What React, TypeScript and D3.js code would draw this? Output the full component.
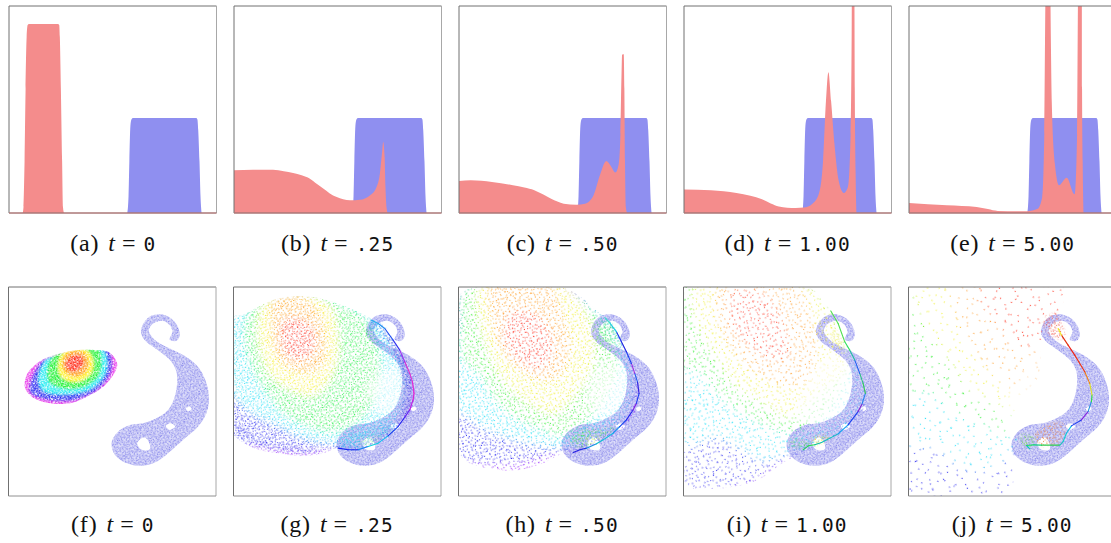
import React from "react";
import * as d3 from "d3";

type P = [number, number];
type Level = { color: string; pts: P[] };

// ---------- top row: densities, x and height in percent of the panel
const blueDensity: P[] = [[57, 0], [57.6, 8], [58, 25], [58.5, 42], [59, 45.2], [59.8, 45.9], [90.2, 45.9], [90.8, 45.2], [91.2, 40], [91.8, 25], [92.3, 8], [92.8, 0]];
const redA: P[] = [[6.6, 0], [7, 3], [7.5, 25], [8, 60], [8.5, 85], [9, 90.8], [9.6, 91.3], [23.6, 91.3], [24.2, 90.8], [24.5, 85], [25, 60], [25.6, 25], [26, 3], [26.5, 0]];
const redB: P[] = [[0, 20.6], [9.2, 20.9], [18.8, 20.9], [24, 20.2], [28.5, 19.3], [32.6, 18.2], [36.6, 16.6], [40, 14], [43, 11.8], [46, 9.6], [49.5, 7.7], [52.6, 6.6], [55.9, 6.1], [60.7, 6.4], [65.5, 8.5], [68.7, 12.6], [70.3, 19], [71.3, 28.7], [71.9, 34.3], [72.6, 27], [73, 12.6], [73.6, 2], [74, 0]];
const redC: P[] = [[0, 15.5], [5.7, 15.8], [15.9, 15], [26, 13.4], [31.5, 12.3], [36.3, 11], [40.4, 9], [44.4, 6.9], [47.4, 5.5], [50.5, 4.5], [56.6, 4], [60.7, 4.5], [64.8, 8.5], [67.9, 18.2], [71, 25.1], [73, 23], [75.4, 19.6], [77, 23.8], [77.8, 38], [78.3, 66], [78.6, 76.5], [79.4, 76.7], [79.7, 60], [80, 25], [80.4, 3], [81, 0]];
const redD: P[] = [[0, 11.3], [13, 11], [25.3, 9.7], [32, 8.3], [37.6, 6.6], [41.8, 4.6], [45.7, 3.2], [53.8, 2.4], [57.8, 2.6], [61.9, 4.5], [65, 9.3], [67, 25], [68.4, 54], [69.6, 68], [70.9, 54], [72.5, 33.5], [74.5, 15.8], [77, 9.7], [79, 12.6], [80.3, 38], [80.8, 86], [81.0, 130], [82.0, 130], [82.3, 60], [82.7, 20], [83.1, 0]];
const redE: P[] = [[0, 4.8], [18.3, 3.7], [32.6, 2.9], [38, 1.9], [42.8, 1], [57, 0.8], [62, 2], [64.2, 7.7], [65.2, 38], [65.7, 100], [66, 130], [67.9, 130], [68.3, 90], [68.8, 54], [70.3, 23.8], [72.3, 13.4], [76, 17], [79.8, 9], [81, 38], [81.4, 100], [81.6, 130], [83.2, 130], [83.4, 60], [83.7, 25], [84.1, 0]];
const topSeries = [redA, redB, redC, redD, redE];
const topCaptions = [["(a)", "0"], ["(b)", ".25"], ["(c)", ".50"], ["(d)", "1.00"], ["(e)", "5.00"]];
const bottomCaptions = [["(f)", "0"], ["(g)", ".25"], ["(h)", ".50"], ["(i)", "1.00"], ["(j)", "5.00"]];

// ---------- bottom row: outlines, in a 624 x 629 grid
const targetOutline: P[] = [[540, 165], [532, 135], [510, 112], [480, 102], [448, 110], [428, 135], [424, 160], [435, 180], [460, 200], [490, 222], [515, 245], [530, 275], [532, 310], [525, 350], [505, 390], [470, 415], [430, 430], [390, 435], [355, 455], [335, 490], [345, 525], [375, 548], [420, 558], [465, 548], [505, 520], [550, 480], [595, 440], [620, 400], [628, 350], [615, 295], [590, 255], [550, 225], [510, 205], [480, 190], [458, 172], [447, 150], [460, 130], [490, 122], [510, 135], [518, 155], [510, 178], [530, 182]];
const targetHoles: P[][] = [
  [[432, 472], [446, 484], [450, 508], [426, 510], [412, 490]],
  [[514, 430], [526, 440], [510, 450], [498, 438]],
  [[570, 380], [575, 387], [565, 394], [558, 386]],
];

const W = "#ffffff";
const field: P[] = [[-60, -60], [720, -60], [720, 720], [-60, 720]];

const fOutline: P[] = [[75, 300], [85, 275], [110, 250], [135, 235], [180, 220], [230, 210], [290, 210], [325, 215], [352, 250], [340, 285], [310, 320], [270, 345], [210, 370], [140, 368], [95, 350], [75, 325]];
const fLevels: Level[] = [
  { color: "#e820e8", pts: field },
  { color: "#1818f0", pts: [[115, 255], [135, 235], [320, 205], [338, 250], [325, 295], [280, 340], [220, 362], [150, 362], [90, 340], [92, 300]] },
  { color: "#08e8f0", pts: [[130, 250], [150, 232], [300, 205], [318, 225], [316, 280], [270, 328], [200, 343], [130, 333], [115, 300]] },
  { color: "#10f020", pts: [[150, 240], [170, 222], [295, 205], [305, 240], [298, 285], [260, 318], [200, 328], [150, 310], [140, 280]] },
  { color: "#fff010", pts: [[175, 250], [195, 212], [260, 210], [280, 245], [273, 280], [240, 303], [205, 303], [180, 285]] },
  { color: "#ff9000", pts: [[185, 250], [205, 216], [250, 216], [266, 245], [258, 275], [225, 290], [195, 275]] },
  { color: "#ff1800", pts: [[195, 250], [220, 225], [245, 228], [250, 255], [225, 275], [205, 270]] },
];

const gOutline: P[] = [[25, 110], [50, 105], [90, 85], [140, 60], [220, 47], [290, 55], [360, 78], [420, 105], [445, 120], [490, 165], [530, 225], [560, 290], [568, 350], [550, 410], [510, 450], [450, 490], [400, 510], [360, 512], [335, 505], [300, 518], [230, 528], [160, 520], [100, 510], [50, 485], [25, 460]];
const gLevels: Level[] = [
  { color: "#a830ff", pts: field },
  { color: "#2828f0", pts: [[0, 40], [300, 20], [480, 100], [560, 250], [555, 350], [520, 440], [420, 520], [330, 512], [230, 515], [120, 505], [0, 480]] },
  { color: "#20e0f8", pts: [[0, 90], [60, 90], [300, 40], [430, 100], [520, 230], [540, 330], [510, 420], [430, 480], [330, 490], [230, 470], [150, 430], [70, 390], [0, 300]] },
  { color: "#28f048", pts: [[75, 85], [55, 140], [60, 210], [90, 290], [130, 350], [170, 400], [240, 440], [320, 460], [400, 430], [450, 370], [470, 280], [460, 180], [420, 110], [330, 60], [200, 35], [110, 60]] },
  { color: "#f8f020", pts: [[115, 75], [100, 130], [110, 220], [135, 280], [190, 325], [260, 345], [305, 310], [335, 240], [335, 150], [315, 80], [230, 40], [150, 50]] },
  { color: "#ff9a10", pts: [[140, 65], [135, 120], [150, 220], [190, 265], [255, 280], [295, 255], [305, 200], [290, 110], [245, 55], [180, 48]] },
  { color: "#ff2818", pts: [[170, 125], [165, 190], [195, 235], [250, 235], [275, 190], [260, 135], [215, 110]] },
];
const gVoids: P[][] = [[[440, 290], [510, 260], [545, 320], [530, 390], [470, 400], [430, 350]]];
const gAccents: Level[] = [
  { color: "#20d8e8", pts: [[345, 490], [380, 465], [440, 450], [500, 435], [520, 430], [470, 475], [420, 500], [360, 510]] },
  { color: "#90f0a0", pts: [[400, 490], [430, 470], [470, 470], [440, 495]] },
  { color: "#3090ff", pts: [[430, 130], [460, 120], [490, 170], [470, 200], [440, 170]] },
  { color: "#4040e0", pts: [[470, 140], [510, 190], [550, 260], [566, 340], [545, 410], [530, 400], [540, 340], [525, 260], [490, 190]] },
  { color: "#5050f0", pts: [[30, 440], [70, 480], [130, 505], [230, 522], [290, 515], [200, 500], [100, 480], [50, 440]] },
];
const gCurve: [number, number, string][] = [[340, 505, "#2030e0"], [370, 510, "#1020f0"], [400, 510, "#1020f0"], [430, 500, "#1080f0"], [460, 490, "#10d0e0"], [490, 468, "#10c0f0"], [520, 440, "#1040f0"], [540, 412, "#2020f0"], [555, 390, "#6020f0"], [565, 360, "#c020e0"], [568, 340, "#e020d0"], [563, 305, "#f020d0"], [555, 280, "#e030d0"], [540, 245, "#e030d0"], [525, 210, "#a030f0"], [505, 180, "#3030f0"], [480, 145, "#2050f0"], [460, 130, "#2090f0"], [440, 120, "#20b0f0"]];

const hOutline: P[] = [[25, 50], [70, 22], [340, 22], [400, 55], [450, 100], [470, 112], [500, 150], [530, 220], [560, 290], [568, 350], [550, 410], [500, 460], [440, 490], [380, 518], [330, 525], [280, 550], [200, 572], [110, 565], [50, 545], [25, 510]];
const hLevels: Level[] = [
  { color: "#a830ff", pts: field },
  { color: "#2828f0", pts: [[0, 0], [300, 0], [480, 100], [560, 260], [560, 360], [510, 450], [420, 500], [300, 530], [180, 555], [90, 555], [0, 530]] },
  { color: "#20e0f8", pts: [[0, 190], [80, 100], [300, 20], [450, 100], [530, 230], [545, 340], [510, 420], [440, 470], [340, 500], [250, 490], [170, 470], [100, 440], [40, 400], [0, 380]] },
  { color: "#38f038", pts: [[40, 30], [30, 120], [35, 240], [90, 290], [130, 360], [200, 420], [270, 450], [330, 470], [420, 420], [480, 340], [510, 250], [480, 160], [430, 90], [340, 30]] },
  { color: "#f0f028", pts: [[90, 10], [85, 100], [110, 200], [160, 300], [240, 370], [310, 400], [370, 350], [430, 250], [420, 130], [370, 40], [330, 10]] },
  { color: "#ff9c20", pts: [[120, 10], [115, 90], [140, 190], [190, 260], [270, 300], [330, 290], [365, 200], [340, 100], [300, 10]] },
  { color: "#ff3020", pts: [[175, 100], [160, 180], [200, 240], [270, 270], [310, 220], [295, 140], [240, 90]] },
];
const hVoids: P[][] = [[[430, 280], [510, 250], [545, 320], [525, 390], [450, 410], [410, 350]]];
const hAccents: Level[] = [
  { color: "#40e840", pts: [[360, 480], [400, 450], [450, 450], [500, 440], [450, 480], [390, 505]] },
  { color: "#d8f050", pts: [[405, 485], [430, 470], [450, 475], [430, 490]] },
  { color: "#30e070", pts: [[465, 115], [490, 135], [515, 195], [490, 190], [450, 180], [450, 140]] },
];
const hCurve: [number, number, string][] = [[370, 518, "#8020f0"], [390, 510, "#2020e0"], [410, 505, "#2030e0"], [440, 492, "#1090e0"], [460, 480, "#10c0d0"], [490, 460, "#10c0e0"], [510, 440, "#1090f0"], [530, 420, "#1040f0"], [550, 390, "#2020f0"], [560, 370, "#8020e0"], [568, 340, "#2040f0"], [563, 305, "#3020e0"], [555, 280, "#2060f0"], [545, 250, "#a030e0"], [530, 215, "#2040f0"], [515, 185, "#2020e0"], [500, 155, "#2030f0"], [480, 128, "#20d0e0"], [465, 112, "#40e0d0"]];

const iOutline: P[] = [[25, 20], [400, 20], [450, 70], [470, 95], [520, 200], [570, 320], [565, 390], [510, 450], [440, 490], [380, 520], [330, 545], [250, 600], [180, 620], [110, 628], [25, 610]];
const iLevels: Level[] = [
  { color: "#a030ff", pts: field },
  { color: "#3030f0", pts: [[0, 0], [330, 0], [480, 90], [575, 300], [570, 400], [510, 460], [420, 510], [340, 540], [260, 590], [200, 620], [100, 635], [0, 620]] },
  { color: "#20e0f8", pts: [[0, 260], [100, 100], [300, 20], [470, 90], [540, 230], [560, 340], [520, 430], [420, 490], [330, 520], [260, 540], [190, 500], [120, 470], [60, 490], [0, 490]] },
  { color: "#38f038", pts: [[0, 20], [0, 260], [70, 280], [130, 350], [210, 410], [290, 450], [370, 460], [460, 400], [520, 260], [480, 100], [420, 20]] },
  { color: "#f0f030", pts: [[60, 20], [60, 110], [120, 220], [190, 320], [270, 370], [340, 410], [440, 330], [520, 260], [490, 150], [440, 60], [400, 20]] },
  { color: "#ffa030", pts: [[130, 20], [120, 90], [160, 200], [240, 280], [330, 320], [400, 310], [430, 220], [410, 100], [370, 20]] },
  { color: "#ff3828", pts: [[170, 30], [160, 120], [210, 190], [290, 240], [340, 230], [330, 130], [270, 40]] },
];
const iVoids: P[][] = [[[400, 300], [470, 220], [535, 260], [550, 350], [500, 420], [420, 440], [370, 400]]];
const iAccents: Level[] = [
  { color: "#f0f030", pts: [[410, 478], [440, 465], [470, 470], [445, 490], [415, 495]] },
  { color: "#40e040", pts: [[345, 480], [380, 480], [410, 495], [375, 505], [350, 500]] },
  { color: "#e8e850", pts: [[480, 150], [510, 205], [480, 200], [465, 170]] },
];
const iCurve: [number, number, string][] = [[385, 510, "#2020e0"], [400, 498, "#20d060"], [420, 495, "#20e050"], [440, 488, "#10c0a0"], [490, 462, "#10c0c0"], [520, 435, "#10a0f0"], [550, 395, "#2040f0"], [562, 372, "#8020d0"], [572, 340, "#2080f0"], [565, 310, "#30d050"], [555, 280, "#30c080"], [540, 240, "#2060f0"], [525, 210, "#20c0a0"], [510, 185, "#30e060"], [490, 130, "#50e050"], [468, 92, "#50e050"]];

const jOutline: P[] = [[30, 10], [500, 10], [490, 100], [450, 110], [440, 170], [430, 290], [380, 350], [350, 440], [365, 470], [360, 575], [330, 660], [30, 660]];
const jLevels: Level[] = [
  { color: "#3030f0", pts: field },
  { color: "#20e0f8", pts: [[0, 0], [600, 0], [600, 400], [360, 500], [300, 560], [200, 560], [120, 500], [60, 500], [0, 490]] },
  { color: "#38f038", pts: [[0, 0], [600, 0], [560, 300], [400, 430], [330, 470], [270, 440], [180, 400], [100, 340], [0, 350]] },
  { color: "#f0f030", pts: [[60, 0], [600, 0], [500, 300], [360, 400], [290, 360], [240, 340], [170, 250], [90, 130], [60, 60]] },
  { color: "#ffa030", pts: [[170, 0], [600, 0], [500, 200], [420, 330], [360, 340], [290, 280], [230, 210], [180, 110]] },
  { color: "#ff3828", pts: [[270, 0], [600, 0], [520, 100], [440, 200], [360, 200], [300, 120], [250, 70]] },
];
const jVoids: P[][] = [[[330, 350], [420, 240], [440, 400], [350, 450], [320, 420]]];
const jAccents: Level[] = [
  { color: "#f08840", pts: [[420, 465], [470, 430], [505, 430], [510, 470], [480, 495], [430, 495]] },
  { color: "#70e040", pts: [[375, 465], [420, 470], [420, 500], [385, 500]] },
  { color: "#f05040", pts: [[445, 125], [480, 100], [510, 175], [470, 170]] },
];
const jCurve: [number, number, string][] = [[405, 507, "#2020e0"], [395, 497, "#10c0d0"], [415, 495, "#20e060"], [440, 496, "#10d080"], [495, 496, "#30d050"], [505, 485, "#20c0c0"], [515, 460, "#10d0d0"], [530, 438, "#10c0e0"], [560, 420, "#2040f0"], [580, 395, "#8020e0"], [590, 365, "#2090e0"], [592, 345, "#30e040"], [585, 310, "#e0e020"], [570, 275, "#f08010"], [540, 225, "#f03010"], [520, 195, "#f02010"], [500, 165, "#e03010"], [490, 145, "#f0f020"]];

// hand-placed stipple tiles that give the clouds their grain
const stippleA: P[] = [[1.3, 4.2], [3.8, 1.1], [11.6, 2.7], [14.2, 6.9], [22.9, 0.8], [27.1, 3.4], [29.4, 9.6], [38.2, 2.1], [40.1, 7.7], [6.3, 9.8], [8.9, 13.1], [18.7, 11.2], [21.2, 14.8], [33.6, 12.3], [35.9, 16.4], [2.4, 18.6], [12.1, 19.9], [15.8, 17.3], [26.4, 17.9], [30.7, 21.6], [39.3, 20.8], [5.2, 24.7], [7.7, 22.1], [19.4, 24.3], [23.3, 27.6], [34.8, 25.2], [37.6, 29.4], [0.9, 30.3], [10.8, 28.4], [13.9, 32.6], [27.8, 31.7], [31.2, 34.9], [4.1, 35.2], [8.2, 38.6], [17.6, 36.3], [21.7, 39.4], [25.1, 36.8], [36.4, 37.9], [40.3, 34.1], [16.4, 27.2], [24.6, 8.3], [32.9, 6.1], [9.7, 5.3], [28.7, 25.8], [0.4, 13.4], [38.8, 13.9], [18.2, 5.6], [13.4, 38.1]];
const stippleB: P[] = [[0.8, 2.3], [7.4, 0.6], [9.9, 5.8], [18.3, 3.1], [21.6, 0.9], [28.7, 4.4], [4.2, 8.9], [14.6, 9.7], [24.8, 7.6], [30.3, 11.2], [1.7, 14.3], [8.1, 15.9], [11.9, 13.2], [19.2, 14.8], [26.6, 16.7], [5.3, 20.6], [15.7, 21.4], [22.4, 19.3], [29.6, 22.8], [0.6, 24.1], [9.4, 25.7], [12.8, 28.3], [19.9, 27.2], [25.2, 26.1], [3.7, 30.4], [7.2, 33.8], [16.3, 32.9], [23.1, 33.6], [28.2, 31.4], [10.6, 35.8], [1.2, 36.4], [19.4, 36.1], [13.8, 2.2], [6.4, 27.9], [27.7, 36.2], [17.3, 18.2]];

const rowTop = { y0: 6, y1: 213 };
const rowBottom = { y0: 287, y1: 496 };
const topX = [9, 234, 459, 684, 909];
const bottomX = [8.5, 233.5, 458.5, 683.5, 908.5];
const panelW = 207.5;

const redFill = "#f48c8c";
const blueFill = "#8f8ff0";

const closed = d3.line<P>().curve(d3.curveCatmullRomClosed.alpha(0.5));

function Caption({ x, y, label, value }: { x: number; y: number; label: string; value: string }) {
  return (
    <text x={x} y={y} textAnchor="middle" fontFamily="'Liberation Serif', serif" fontSize={24} fill="#111">
      <tspan letterSpacing={0.8}>{label}</tspan>
      <tspan dx={9} fontStyle="italic">t</tspan>
      <tspan dx={7}>=</tspan>
      <tspan dx={8} fontFamily="'DejaVu Sans Mono', monospace" fontSize={19.5} letterSpacing={value.length > 1 ? 1.2 : 0}>{value}</tspan>
    </text>
  );
}

function Frame({ x, y0, y1 }: { x: number; y0: number; y1: number }) {
  return (
    <g fill="none" strokeWidth={1}>
      <path d={`M${x},${y1} V${y0} H${x + panelW}`} stroke="#707070" />
      <path d={`M${x + panelW},${y0} V${y1}`} stroke="#a8a8a8" />
      <path d={`M${x},${y1} H${x + panelW}`} stroke="#909090" />
    </g>
  );
}

function TopPanel({ i }: { i: number }) {
  const x0 = topX[i];
  const sx = d3.scaleLinear().domain([0, 100]).range([x0, x0 + panelW]);
  const sy = d3.scaleLinear().domain([0, 100]).range([rowTop.y1, rowTop.y0]);
  const area = d3.area<P>().x((d) => sx(d[0])).y0(sy(0)).y1((d) => sy(d[1])).curve(d3.curveMonotoneX);
  return (
    <g>
      <clipPath id={`top${i}`}><rect x={x0} y={rowTop.y0} width={panelW} height={rowTop.y1 - rowTop.y0} /></clipPath>
      <g clipPath={`url(#top${i})`}>
        <path d={area(blueDensity)!} fill={blueFill} />
        <path d={area(topSeries[i])!} fill={redFill} />
      </g>
      <Frame x={x0} y0={rowTop.y0} y1={rowTop.y1} />
      <path d={`M${x0},${rowTop.y1} H${x0 + panelW}`} stroke="#b86a6a" strokeWidth={1} />
      <Caption x={x0 + panelW / 2} y={251} label={topCaptions[i][0]} value={topCaptions[i][1]} />
    </g>
  );
}

function Stipple({ id, tile, size, s, r, angle }: { id: string; tile: P[]; size: [number, number]; s: number; r: number; angle: number }) {
  return (
    <pattern id={id} patternUnits="userSpaceOnUse" width={size[0] * s} height={size[1] * s} patternTransform={`rotate(${angle})`}>
      {tile.map((d, k) => <circle key={k} cx={d[0] * s} cy={d[1] * s} r={r} fill={W} />)}
    </pattern>
  );
}

function Stippled({ id, sA, sB, r, box, voids, children }: { id: string; sA: number; sB: number; r: number; box: number[]; voids?: string[]; children: React.ReactNode }) {
  return (
    <g>
      <Stipple id={`${id}a`} tile={stippleA} size={[41, 41]} s={sA} r={r} angle={17} />
      <Stipple id={`${id}b`} tile={stippleB} size={[31, 37]} s={sB} r={r} angle={-31} />
      <filter id={`${id}v`} x="-30%" y="-30%" width="160%" height="160%"><feGaussianBlur stdDeviation={5} /></filter>
      <mask id={`${id}m`} maskUnits="userSpaceOnUse" x={box[0]} y={box[1]} width={box[2]} height={box[3]}>
        <rect x={box[0]} y={box[1]} width={box[2]} height={box[3]} fill={`url(#${id}a)`} />
        <rect x={box[0]} y={box[1]} width={box[2]} height={box[3]} fill={`url(#${id}b)`} />
        {voids && voids.map((v, k) => <path key={k} d={v} fill="#000" opacity={0.6} filter={`url(#${id}v)`} />)}
      </mask>
      <g mask={`url(#${id}m)`}>{children}</g>
    </g>
  );
}

const cloudPanels = [
  { outline: fOutline, levels: fLevels, accents: [] as Level[], voids: [] as P[][], curve: [] as [number, number, string][], sA: 0.3, sB: 0.34, r: 0.65, off: 25 },
  { outline: gOutline, levels: gLevels, accents: gAccents, voids: gVoids, curve: gCurve, sA: 0.5, sB: 0.58, r: 0.52, off: 25 },
  { outline: hOutline, levels: hLevels, accents: hAccents, voids: hVoids, curve: hCurve, sA: 0.62, sB: 0.82, r: 0.55, off: 25 },
  { outline: iOutline, levels: iLevels, accents: iAccents, voids: iVoids, curve: iCurve, sA: 0.85, sB: 1.2, r: 0.58, off: 25 },
  { outline: jOutline, levels: jLevels, accents: jAccents, voids: jVoids, curve: jCurve, sA: 1.55, sB: 2.2, r: 0.62, off: 40 },
];

function BottomPanel({ i }: { i: number }) {
  const c = cloudPanels[i];
  const x0 = bottomX[i];
  const sx = d3.scaleLinear().domain([c.off, c.off + 624]).range([x0, x0 + panelW]);
  const sy = d3.scaleLinear().domain([20, 649]).range([rowBottom.y0, rowBottom.y1]);
  const toPx = (pts: P[]): P[] => pts.map((d) => [sx(d[0]), sy(d[1])] as P);
  const shift = c.off - 25;
  const target = targetOutline.map((d) => [d[0] + shift, d[1]] as P);
  const holes = targetHoles.map((h) => h.map((d) => [d[0] + shift, d[1]] as P));
  const targetPath = closed(toPx(target))! + holes.map((h) => closed(toPx(h))!).join("");
  const box = [x0, rowBottom.y0, panelW, rowBottom.y1 - rowBottom.y0];
  const seg = d3.line<[number, number, string]>().x((d) => sx(d[0])).y((d) => sy(d[1]));
  return (
    <g>
      <clipPath id={`pc${i}`}><rect x={box[0]} y={box[1]} width={box[2]} height={box[3]} /></clipPath>
      <clipPath id={`cl${i}`}><path d={closed(toPx(c.outline))!} /></clipPath>
      <filter id={`bl${i}`} x="-20%" y="-20%" width="140%" height="140%"><feGaussianBlur stdDeviation={i === 0 ? 1.2 : 3} /></filter>
      <filter id={`ba${i}`} x="-20%" y="-20%" width="140%" height="140%"><feGaussianBlur stdDeviation={1.5} /></filter>
      <filter id={`bt${i}`} x="-10%" y="-10%" width="120%" height="120%"><feGaussianBlur stdDeviation={0.5} /></filter>
      <g clipPath={`url(#pc${i})`}>
        <path d={targetPath} fill="#c8c8f8" fillRule="evenodd" opacity={0.6} filter={`url(#bt${i})`} />
        <Stippled id={`t${i}`} sA={0.36} sB={0.44} r={0.55} box={box}>
          <path d={targetPath} fill="#8484ea" fillRule="evenodd" filter={`url(#bt${i})`} />
        </Stippled>
        <Stippled id={`c${i}`} sA={c.sA} sB={c.sB} r={c.r} box={box} voids={c.voids.map((v) => closed(toPx(v))!)}>
          <g clipPath={`url(#cl${i})`}>
            <g filter={`url(#bl${i})`}>
              {c.levels.map((l, k) => <path key={k} d={closed(toPx(l.pts))!} fill={l.color} />)}
            </g>
          </g>
        </Stippled>
        {c.accents.length > 0 && (
          <Stippled id={`a${i}`} sA={0.55} sB={0.7} r={0.55} box={box}>
            <g filter={`url(#ba${i})`}>
              {c.accents.map((l, k) => <path key={k} d={closed(toPx(l.pts))!} fill={l.color} />)}
            </g>
          </Stippled>
        )}
        {c.curve.slice(1).map((d, k) => (
          <path key={k} d={seg([c.curve[k], d])!} stroke={d[2]} strokeWidth={1.1} fill="none" strokeLinecap="round" />
        ))}
      </g>
      <Frame x={x0} y0={rowBottom.y0} y1={rowBottom.y1} />
      <Caption x={x0 + panelW / 2} y={532} label={bottomCaptions[i][0]} value={bottomCaptions[i][1]} />
    </g>
  );
}

export default function App() {
  return (
    <svg width={1111} height={543} style={{ position: "absolute", left: 0, top: 0, background: "#fff" }}>
      {topSeries.map((_, i) => <TopPanel key={i} i={i} />)}
      {cloudPanels.map((_, i) => <BottomPanel key={i} i={i} />)}
    </svg>
  );
}
